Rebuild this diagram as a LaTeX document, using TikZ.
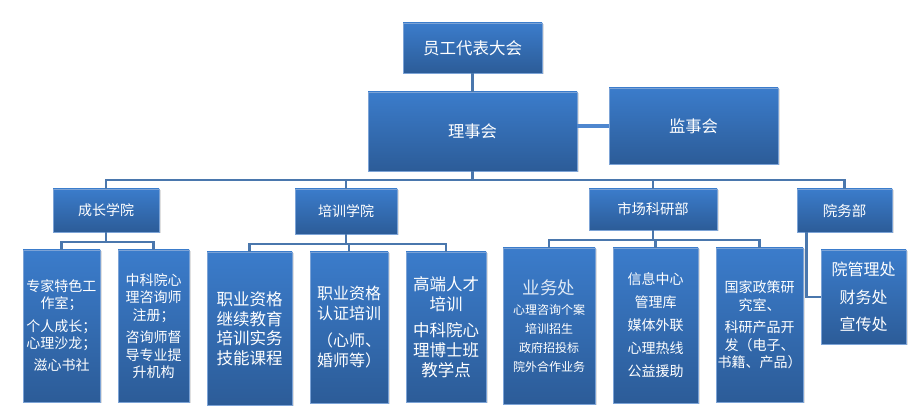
\documentclass[tikz,border=0pt]{standalone}
\usepackage{fontspec}
\newfontfamily\cjk{Noto Sans CJK SC}
\usetikzlibrary{shadows}
\definecolor{boxtop}{HTML}{3B7CCB}
\definecolor{boxbot}{HTML}{2C5C98}
\definecolor{boxline}{HTML}{7CA3D6}
\definecolor{connc}{HTML}{4A77AD}
\definecolor{connl}{HTML}{4F87CF}
\definecolor{glowt}{HTML}{DDE8F5}
\tikzset{
  box/.style={rectangle, draw=boxline, line width=0.8pt, top color=boxtop, bottom color=boxbot,
    text=white, align=center, inner sep=0pt,
    drop shadow={opacity=0.25, shadow xshift=1.5pt, shadow yshift=-1.5pt}},
  conn/.style={draw=connc, line width=2.4pt},
  connside/.style={draw=connl, line width=4pt},
}
\newcommand{\fs}[2]{\cjk\fontsize{#1}{#2}\selectfont}
\begin{document}
\begin{tikzpicture}[x=1pt,y=-1pt]
\useasboundingbox (0,0) rectangle (921,419);
% top levels
\node[box, minimum width=139pt, minimum height=50pt, font=\fs{16.5}{20}] (top) at (472.5,48) {员工代表大会};
\node[box, minimum width=209pt, minimum height=79pt, font=\fs{16.3}{20}] (lsh) at (472.5,131.5) {理事会};
\node[box, minimum width=169pt, minimum height=76pt, font=\fs{16.3}{20}] (jsh) at (693.5,126) {监事会};
% departments
\node[box, minimum width=106pt, minimum height=43pt, font=\fs{14}{17}] (cz) at (106,210.5) {成长学院};
\node[box, minimum width=102pt, minimum height=45pt, font=\fs{14}{17}] (px) at (346,211.5) {培训学院};
\node[box, minimum width=128pt, minimum height=41pt, font=\fs{14.3}{17}] (sc) at (653,209.5) {市场科研部};
\node[box, minimum width=95pt, minimum height=43pt, font=\fs{14.5}{17}] (yw) at (844.5,210.5) {院务部};
% bottom boxes
\node[box, minimum width=77pt, minimum height=152pt, font=\fs{14}{16.5}] (b1) at (61.5,326)
  {专家特色工\\作室；\\[7pt]个人成长；\\心理沙龙；\\[6pt]滋心书社};
\node[box, minimum width=71pt, minimum height=152pt, font=\fs{14}{17.5}] (b2) at (153.5,326)
  {中科院心\\理咨询师\\注册；\\[5pt]咨询师督\\导专业提\\升机构};
\node[box, minimum width=85pt, minimum height=153pt, font=\fs{16.5}{19.5}] (b3) at (249.5,328.5)
  {职业资格\\继续教育\\培训实务\\技能课程};
\node[box, minimum width=78pt, minimum height=151pt, font=\fs{16}{20}] (b4) at (349,327.5)
  {职业资格\\认证培训\\[7pt]（心师、\\婚师等）};
\node[box, minimum width=80pt, minimum height=150pt, font=\fs{16.5}{20}] (b5) at (446,327)
  {高端人才\\培训\\[6pt]中科院心\\理博士班\\教学点};
\node[box, minimum width=92pt, minimum height=156pt, text width=90pt, font=\fs{12}{19}] (b6) at (549,326)
  {{\fs{17.5}{20}\textcolor{glowt}{业务处}\par}\vspace{1.5pt}\fs{12}{19}心理咨询个案\\培训招生\\政府招投标\\院外合作业务};
\node[box, minimum width=85pt, minimum height=155pt, font=\fs{14}{23}] (b7) at (655.5,325.5)
  {信息中心\\管理库\\媒体外联\\心理热线\\公益援助};
\node[box, minimum width=87pt, minimum height=154pt, font=\fs{14}{17.5}] (b8) at (759.5,325)
  {国家政策研\\究室、\\[5pt]科研产品开\\发（电子、\\书籍、产品）};
\node[box, minimum width=85pt, minimum height=94pt, font=\fs{16}{27.5}] (b9) at (863.5,297)
  {院管理处\\财务处\\宣传处};
% connectors
\coordinate (bus) at (0,180);
\coordinate (busA) at (0,242);
\coordinate (busB) at (0,244);
\coordinate (busC) at (0,240);
\draw[conn] (top.south) -- (lsh.north);
\draw[connside] (jsh.west -| lsh.east) -- (jsh.west);
\draw[conn] (lsh.south) -- (lsh.south |- bus);
\draw[conn] (cz.north) -- (cz.north |- bus) -| (yw.north);
\draw[conn] (px.north) -- (px.north |- bus);
\draw[conn] (sc.north) -- (sc.north |- bus);
\draw[conn] (cz.south) -- (cz.south |- busA);
\draw[conn] (b1.north) -- (b1.north |- busA) -| (b2.north);
\draw[conn] (px.south) -- (px.south |- busB);
\draw[conn] (b3.north) -- (b3.north |- busB) -| (b5.north);
\draw[conn] (b4.north) -- (b4.north |- busB);
\draw[conn] (sc.south) -- (sc.south |- busC);
\draw[conn] (b6.north) -- (b6.north |- busC) -| (b8.north);
\draw[conn] (b7.north) -- (b7.north |- busC);
\coordinate (ywdrop) at ([xshift=10pt]yw.south west);
\draw[conn] (ywdrop) |- (b9.west);
\end{tikzpicture}
\end{document}
